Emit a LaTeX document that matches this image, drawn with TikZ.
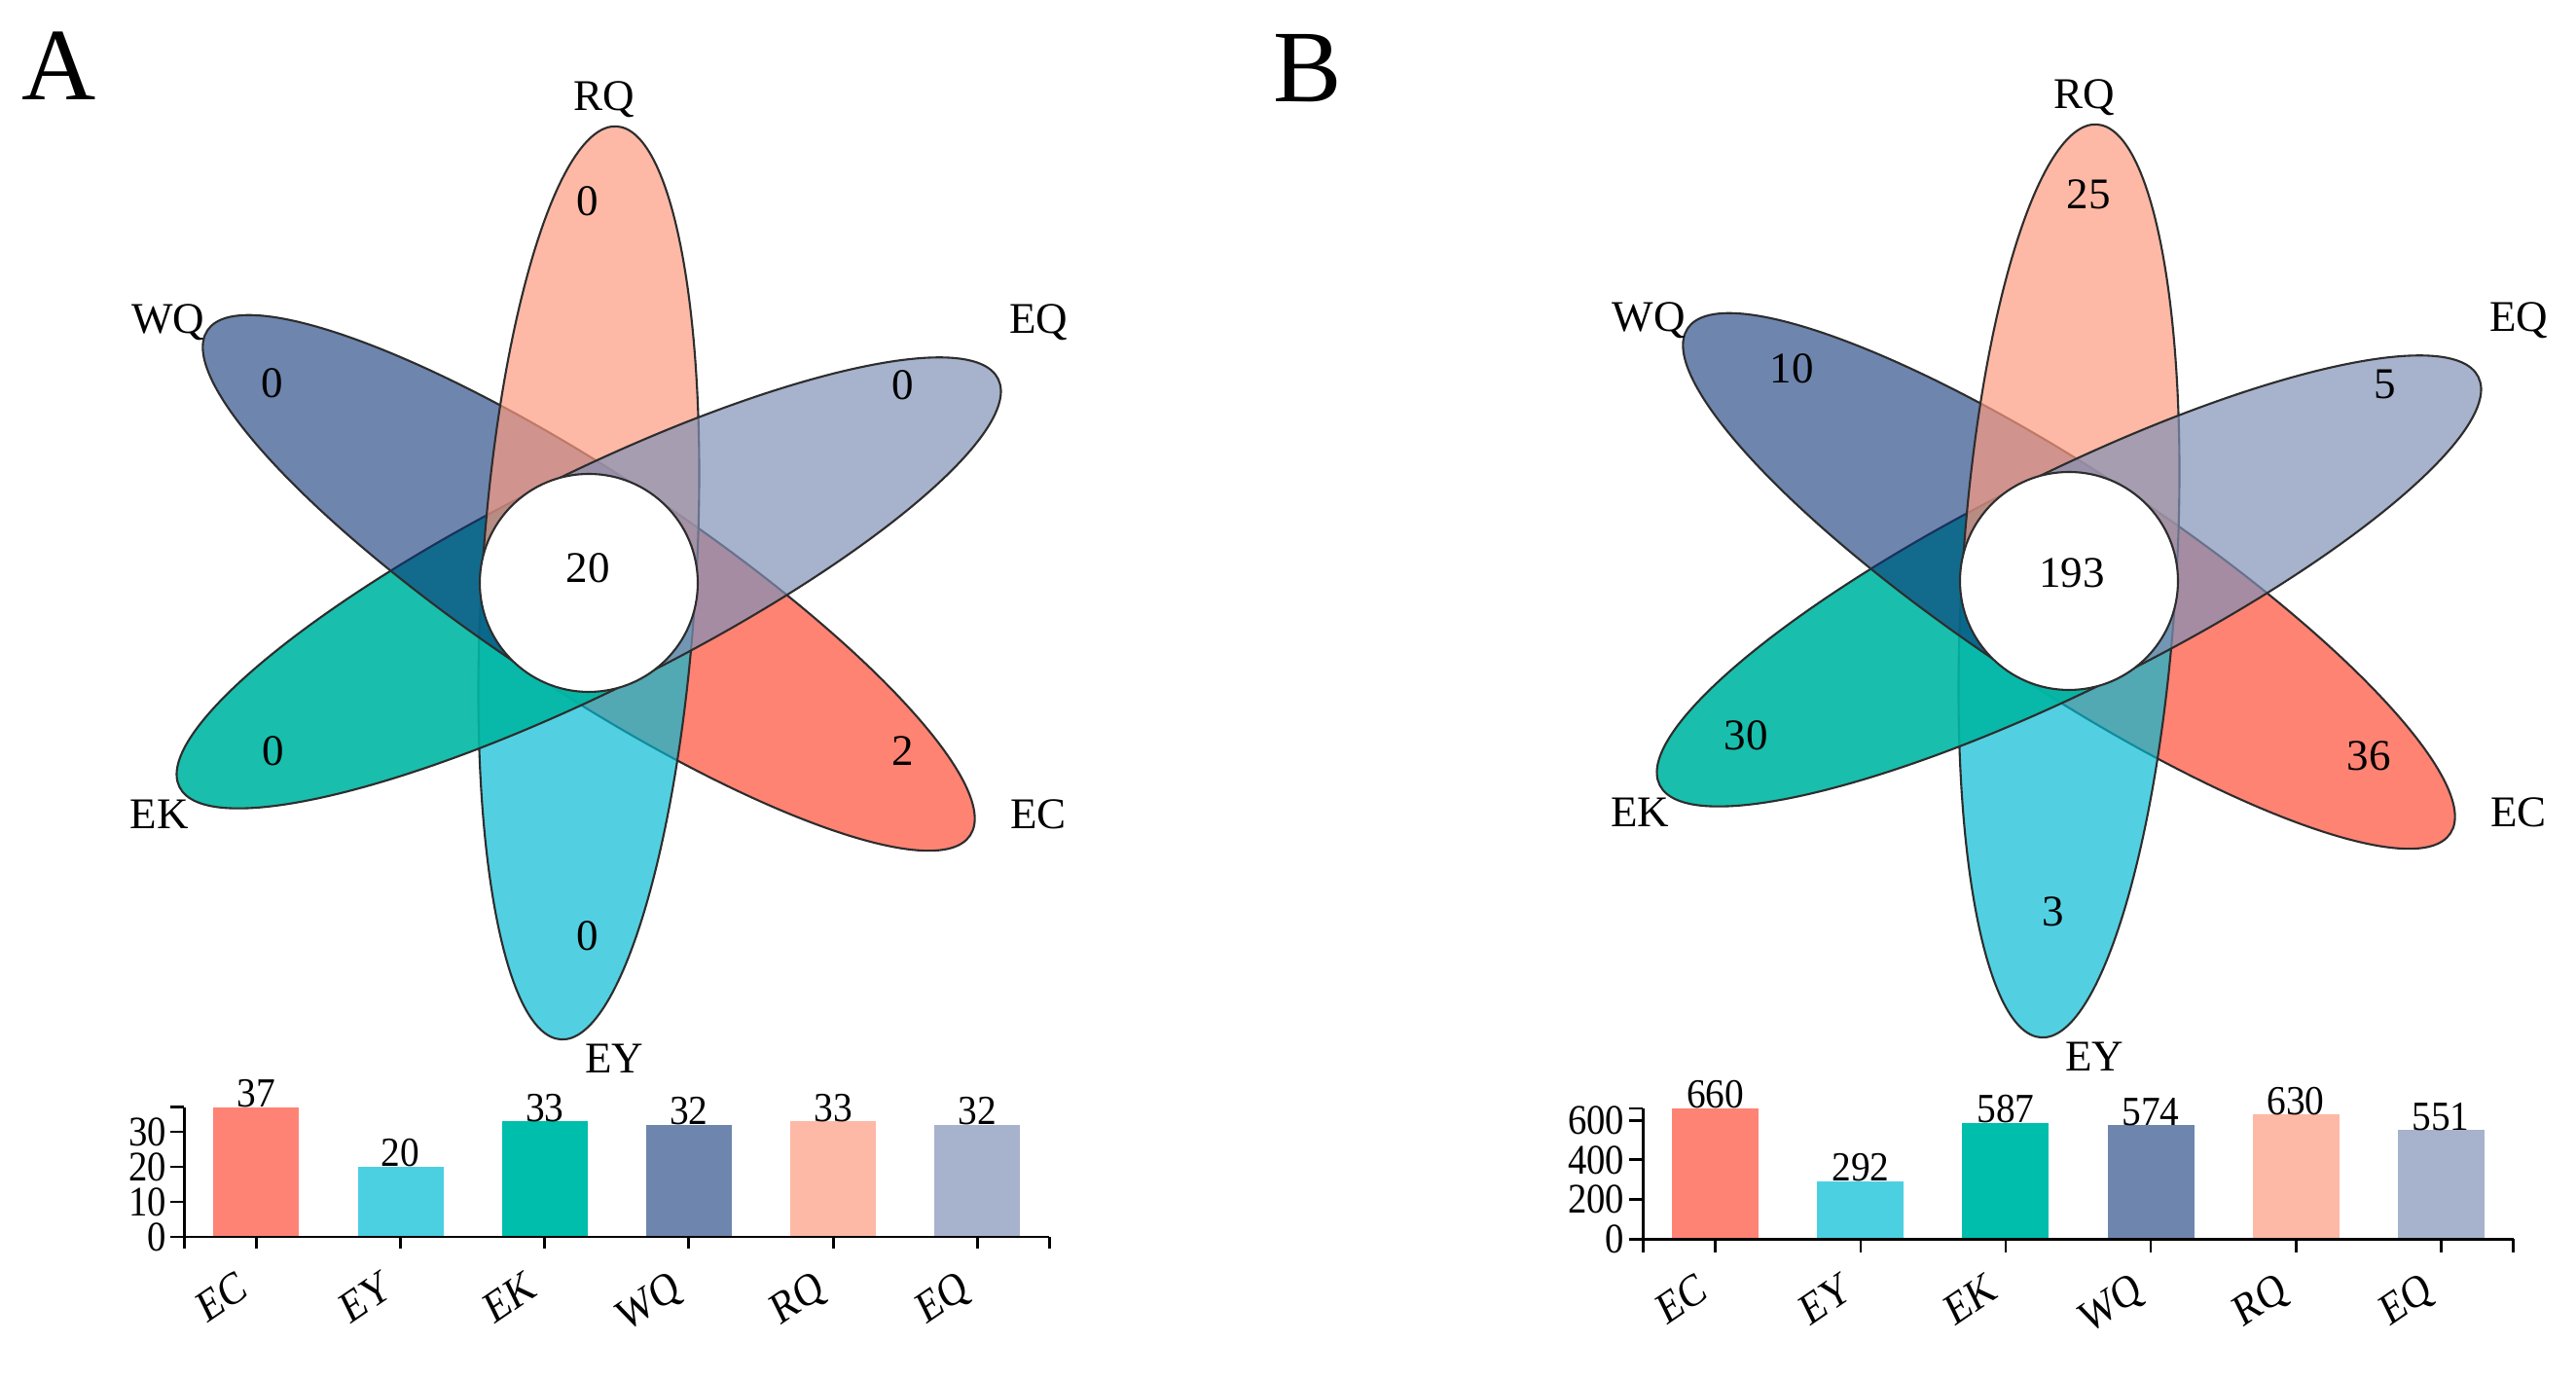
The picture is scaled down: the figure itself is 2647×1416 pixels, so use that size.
\documentclass[tikz,border=0pt]{standalone}
\usepackage{fontspec}
\setmainfont{Liberation Serif}

\definecolor{ecbar}{RGB}{255,131,116}
\definecolor{eybar}{RGB}{75,208,225}
\definecolor{ekbar}{RGB}{0,190,172}
\definecolor{wqbar}{RGB}{110,133,174}
\definecolor{rqbar}{RGB}{253,185,166}
\definecolor{eqbar}{RGB}{167,178,204}
\definecolor{ecpet}{RGB}{255,117,100}
\definecolor{eypet}{RGB}{0,186,211}
\definecolor{ekpet}{RGB}{0,183,163}
\definecolor{wqpet}{RGB}{13,52,120}
\definecolor{rqpet}{RGB}{252,155,128}
\definecolor{eqpet}{RGB}{129,145,182}
\definecolor{rim}{RGB}{45,45,45}

\tikzset{
	petal/.style={draw=rim, line width=.6pt},
	core/.style={draw=rim, line width=.6pt, fill=white},
	setname/.style={font=\fontsize{12.8}{15}\selectfont, inner sep=0},
	count/.style={font=\fontsize{12.8}{15}\selectfont, inner sep=0},
	axisline/.style={line width=.8pt},
	ticklabel/.style={font=\fontsize{11}{13}\selectfont, yscale=1.12, anchor=east, inner sep=0},
	barvalue/.style={font=\fontsize{11.2}{13}\selectfont, yscale=1.08, anchor=base, inner sep=0},
	barname/.style={font=\fontsize{11.3}{13}\selectfont, yscale=1.18, rotate=30, anchor=base east, inner sep=0},
	tag/.style={font=\fontsize{30}{36}\selectfont, anchor=base west, inner sep=0}
}

\begin{document}
\begin{tikzpicture}[x=.01cm, y=.01cm]
	\useasboundingbox (0,0) rectangle (2647,1416);

	\node[tag] (tagA) at (22,1313) {A};
	\node[tag] (tagB) at (1308,1311) {B};

	% flower A
	\begin{scope}[shift={(605,817)}]
		\filldraw[petal, fill=ecpet, fill opacity=.9, rotate=-33.5] (0,-110) arc[start angle=-90, end angle=90, x radius=470, y radius=110] -- cycle;
		\filldraw[petal, fill=eypet, fill opacity=.68, rotate=-93.5] (0,-110) arc[start angle=-90, end angle=90, x radius=470, y radius=110] -- cycle;
		\filldraw[petal, fill=ekpet, fill opacity=.9, rotate=206.5] (0,-110) arc[start angle=-90, end angle=90, x radius=470, y radius=110] -- cycle;
		\filldraw[petal, fill=wqpet, fill opacity=.6, rotate=146.5] (0,-110) arc[start angle=-90, end angle=90, x radius=470, y radius=110] -- cycle;
		\filldraw[petal, fill=rqpet, fill opacity=.7, rotate=86.5] (0,-110) arc[start angle=-90, end angle=90, x radius=470, y radius=110] -- cycle;
		\filldraw[petal, fill=eqpet, fill opacity=.7, rotate=26.5] (0,-110) arc[start angle=-90, end angle=90, x radius=470, y radius=110] -- cycle;
		\filldraw[core] (0,0) circle (112);

		\node[count] (coreA) at (-1,15) {20};
		\node[count] (nrqA) at (-1,392) {0};
		\node[count] (nwqA) at (-325,205) {0};
		\node[count] (neqA) at (323,203) {0};
		\node[count] (nekA) at (-324,-173) {0};
		\node[count] (necA) at (323,-173) {2};
		\node[count] (neyA) at (-1,-363) {0};

		\node[setname] (rqA) at (16,497) {RQ};
		\node[setname] (wqA) at (-432,268) {WQ};
		\node[setname] (eqA) at (462,268) {EQ};
		\node[setname] (ekA) at (-441,-238) {EK};
		\node[setname] (ecA) at (462,-238) {EC};
		\node[setname] (eyA) at (26,-489) {EY};
	\end{scope}

	% flower B
	\begin{scope}[shift={(2126,819)}]
		\filldraw[petal, fill=ecpet, fill opacity=.9, rotate=-33.5] (0,-110) arc[start angle=-90, end angle=90, x radius=470, y radius=110] -- cycle;
		\filldraw[petal, fill=eypet, fill opacity=.68, rotate=-93.5] (0,-110) arc[start angle=-90, end angle=90, x radius=470, y radius=110] -- cycle;
		\filldraw[petal, fill=ekpet, fill opacity=.9, rotate=206.5] (0,-110) arc[start angle=-90, end angle=90, x radius=470, y radius=110] -- cycle;
		\filldraw[petal, fill=wqpet, fill opacity=.6, rotate=146.5] (0,-110) arc[start angle=-90, end angle=90, x radius=470, y radius=110] -- cycle;
		\filldraw[petal, fill=rqpet, fill opacity=.7, rotate=86.5] (0,-110) arc[start angle=-90, end angle=90, x radius=470, y radius=110] -- cycle;
		\filldraw[petal, fill=eqpet, fill opacity=.7, rotate=26.5] (0,-110) arc[start angle=-90, end angle=90, x radius=470, y radius=110] -- cycle;
		\filldraw[core] (0,0) circle (112);

		\node[count] (coreB) at (3,8) {193};
		\node[count] (nrqB) at (20,397) {25};
		\node[count] (nwqB) at (-285,218) {10};
		\node[count] (neqB) at (325,202) {5};
		\node[count] (nekB) at (-332,-159) {30};
		\node[count] (necB) at (308,-180) {36};
		\node[count] (neyB) at (-16,-340) {3};

		\node[setname] (rqB) at (16,497) {RQ};
		\node[setname] (wqB) at (-432,268) {WQ};
		\node[setname] (eqB) at (462,268) {EQ};
		\node[setname] (ekB) at (-441,-238) {EK};
		\node[setname] (ecB) at (462,-238) {EC};
		\node[setname] (eyB) at (26,-489) {EY};
	\end{scope}

	% bars A
	\fill[ecbar] (219.3,145) rectangle (307.3,278.2);
	\fill[eybar] (367.5,145) rectangle (455.5,217);
	\fill[ekbar] (515.7,145) rectangle (603.7,263.8);
	\fill[wqbar] (663.9,145) rectangle (751.9,260.2);
	\fill[rqbar] (812.1,145) rectangle (900.1,263.8);
	\fill[eqbar] (960.3,145) rectangle (1048.3,260.2);
	\draw[axisline] (189.2,278.2) -- (189.2,145) -- (1078.4,145);
	\foreach \y in {145,181,217,253,278.2} \draw[axisline] (175,\y) -- (189.2,\y);
	\foreach \x in {189.2,263.3,411.5,559.7,707.9,856.1,1004.3,1078.4} \draw[axisline] (\x,145) -- (\x,133);

	\node[ticklabel] (t0A) at (172,145) {0};
	\node[ticklabel] (t10A) at (172,181) {10};
	\node[ticklabel] (t20A) at (172,217) {20};
	\node[ticklabel] (t30A) at (172,253) {30};

	\node[barvalue] (vecA) at (263.3,278.2) {37};
	\node[barvalue] (veyA) at (411.5,217) {20};
	\node[barvalue] (vekA) at (559.7,263.8) {33};
	\node[barvalue] (vwqA) at (707.9,260.2) {32};
	\node[barvalue] (vrqA) at (856.1,263.8) {33};
	\node[barvalue] (veqA) at (1004.3,260.2) {32};

	\node[barname] (xecA) at (257.3,86) {EC};
	\node[barname] (xeyA) at (405.5,86) {EY};
	\node[barname] (xekA) at (553.7,86) {EK};
	\node[barname] (xwqA) at (701.9,86) {WQ};
	\node[barname] (xrqA) at (850.1,86) {RQ};
	\node[barname] (xeqA) at (998.3,86) {EQ};

	% bars B
	\fill[ecbar] (1718.3,142.7) rectangle (1807.3,277);
	\fill[eybar] (1867.4,142.7) rectangle (1956.4,202.1);
	\fill[ekbar] (2016.4,142.7) rectangle (2105.4,262.2);
	\fill[wqbar] (2165.5,142.7) rectangle (2254.5,259.5);
	\fill[rqbar] (2314.6,142.7) rectangle (2403.6,270.9);
	\fill[eqbar] (2463.6,142.7) rectangle (2552.6,254.8);
	\draw[axisline] (1688.3,277) -- (1688.3,142.7) -- (2582.6,142.7);
	\foreach \y in {142.7,183.4,224.1,264.8,277} \draw[axisline] (1674,\y) -- (1688.3,\y);
	\foreach \x in {1688.3,1762.8,1911.9,2060.9,2210,2359.1,2508.1,2582.6} \draw[axisline] (\x,142.7) -- (\x,129.3);

	\node[ticklabel] (t0B) at (1670,142.7) {0};
	\node[ticklabel] (t200B) at (1670,183.4) {200};
	\node[ticklabel] (t400B) at (1670,224.1) {400};
	\node[ticklabel] (t600B) at (1670,264.8) {600};

	\node[barvalue] (vecB) at (1762.8,277) {660};
	\node[barvalue] (veyB) at (1911.9,202.1) {292};
	\node[barvalue] (vekB) at (2060.9,262.2) {587};
	\node[barvalue] (vwqB) at (2210,259.5) {574};
	\node[barvalue] (vrqB) at (2359.1,270.9) {630};
	\node[barvalue] (veqB) at (2508.1,254.8) {551};

	\node[barname] (xecB) at (1756.8,84) {EC};
	\node[barname] (xeyB) at (1905.9,84) {EY};
	\node[barname] (xekB) at (2054.9,84) {EK};
	\node[barname] (xwqB) at (2204,84) {WQ};
	\node[barname] (xrqB) at (2353.1,84) {RQ};
	\node[barname] (xeqB) at (2502.1,84) {EQ};
\end{tikzpicture}
\end{document}
